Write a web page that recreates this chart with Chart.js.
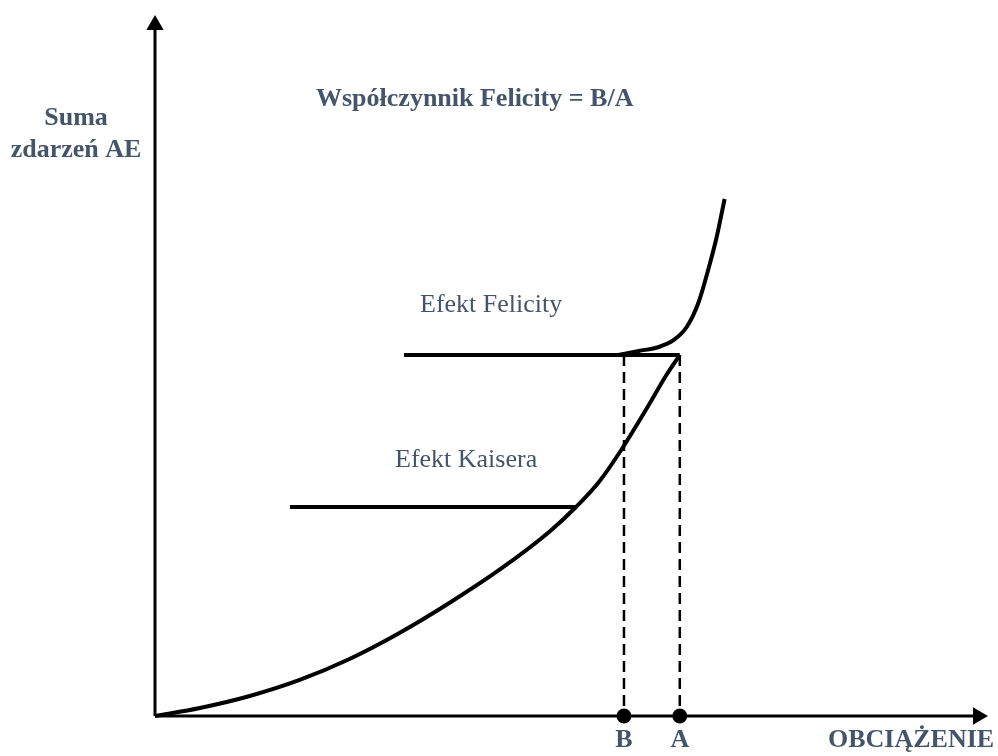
<!DOCTYPE html>
<html lang="pl">
<head>
    <meta charset="UTF-8">
    <meta name="viewport" content="width=device-width, initial-scale=1.0">
    <title>Efekt Kaisera i Felicity</title>
    <style>
        body { margin: 0; background: #fff; }
    </style>
</head>
<body>
    <canvas id="myChart" width="998" height="756"></canvas>

    <script src="https://cdn.jsdelivr.net/npm/chart.js@4"></script>
    <script>
        // krzywa obciążania (pierwszy cykl)
        const loadX = [0, 5.39, 11.38, 17.37, 23.35, 29.34, 35.33, 41.32, 47.31, 50.54, 53.29, 56.05, 59.28, 61.32, 63.0]
        const loadY = [0, 1.14, 2.85, 5.14, 8.13, 11.84, 16.12, 20.83, 26.25, 29.81, 33.38, 38.09, 44.37, 48.50, 51.5]
        // ponowne obciążenie - emisja przed osiągnięciem poprzedniego obciążenia
        const felicityX = [55.6, 58.08, 60.48, 62.28, 63.83, 65.27, 66.47, 67.43, 68.38]
        const felicityY = [51.5, 52.07, 52.64, 53.64, 55.49, 59.06, 63.91, 68.33, 73.75]
        // poziomy z poprzednich cykli
        const kaiserLevel = 29.81
        const kaiserFrom = 16.2
        const felicityLevel = 51.5
        const felicityFrom = 29.9
        // obciążenia B i A
        const loadB = 56.3
        const loadA = 63.0
        const axisEndX = 98.8
        const axisEndY = 98.57

        const slate = '#44546A'
        const serif = "'Liberation Serif', 'Times New Roman', serif"

        const toPoints = (xs, ys) => xs.map((x, i) => ({ x: x, y: ys[i] }))

        const line = (data, width, extra) => Object.assign({
            data: data,
            showLine: true,
            borderColor: '#000',
            backgroundColor: '#000',
            borderWidth: width,
            pointRadius: 0,
            clip: false
        }, extra || {})

        const labels = {
            id: 'labels',
            afterDraw(chart) {
                const ctx = chart.ctx
                const xs = chart.scales.x
                ctx.save()
                ctx.fillStyle = slate
                ctx.textBaseline = 'alphabetic'
                ctx.font = 'bold 26px ' + serif
                ctx.textAlign = 'center'
                ctx.fillText('Suma', 76, 125)
                ctx.fillText('zdarzeń AE', 76, 157)
                ctx.fillText('B', xs.getPixelForValue(loadB), 747)
                ctx.fillText('A', xs.getPixelForValue(loadA), 747)
                ctx.textAlign = 'left'
                ctx.fillText('Współczynnik Felicity = B/A', 316, 106)
                ctx.fillText('OBCIĄŻENIE', 828, 747)
                ctx.font = '26px ' + serif
                ctx.fillText('Efekt Felicity', 420, 312)
                ctx.fillText('Efekt Kaisera', 395, 467)
                ctx.restore()
            }
        }

        const ctx = document.getElementById('myChart').getContext('2d')
        const chart = new Chart(ctx, {
            type: 'scatter',
            data: {
                datasets: [
                    // osie
                    line([{ x: 0, y: 0 }, { x: axisEndX, y: 0 }], 3),
                    line([{ x: 0, y: 0 }, { x: 0, y: axisEndY }], 3),
                    line([{ x: axisEndX, y: 0 }], 0, { pointRadius: 10, pointStyle: 'triangle', rotation: 90, borderWidth: 0 }),
                    line([{ x: 0, y: axisEndY }], 0, { pointRadius: 10, pointStyle: 'triangle', rotation: 0, borderWidth: 0 }),
                    // poziomy
                    line([{ x: felicityFrom, y: felicityLevel }, { x: loadA, y: felicityLevel }], 4),
                    line([{ x: kaiserFrom, y: kaiserLevel }, { x: loadX[9], y: kaiserLevel }], 4),
                    // krzywe
                    line(toPoints(loadX, loadY), 4, { cubicInterpolationMode: 'monotone' }),
                    line(toPoints(felicityX, felicityY), 4, { cubicInterpolationMode: 'monotone' }),
                    // linie przerywane do B i A
                    line([{ x: loadB, y: felicityLevel }, { x: loadB, y: 0 }], 2.5, { borderDash: [11, 6] }),
                    line([{ x: loadA, y: felicityLevel }, { x: loadA, y: 0 }], 2.5, { borderDash: [11, 6] }),
                    // punkty B i A
                    line([{ x: loadB, y: 0 }, { x: loadA, y: 0 }], 0, { showLine: false, pointRadius: 7.5, borderWidth: 0 })
                ]
            },
            options: {
                responsive: false,
                animation: false,
                events: [],
                layout: { padding: { left: 155, right: 8, top: 15, bottom: 40 } },
                scales: {
                    x: { type: 'linear', min: 0, max: 100, display: false },
                    y: { type: 'linear', min: 0, max: 100, display: false }
                },
                plugins: {
                    legend: { display: false },
                    tooltip: { enabled: false }
                }
            },
            plugins: [labels]
        })
    </script>
</body>
</html>
